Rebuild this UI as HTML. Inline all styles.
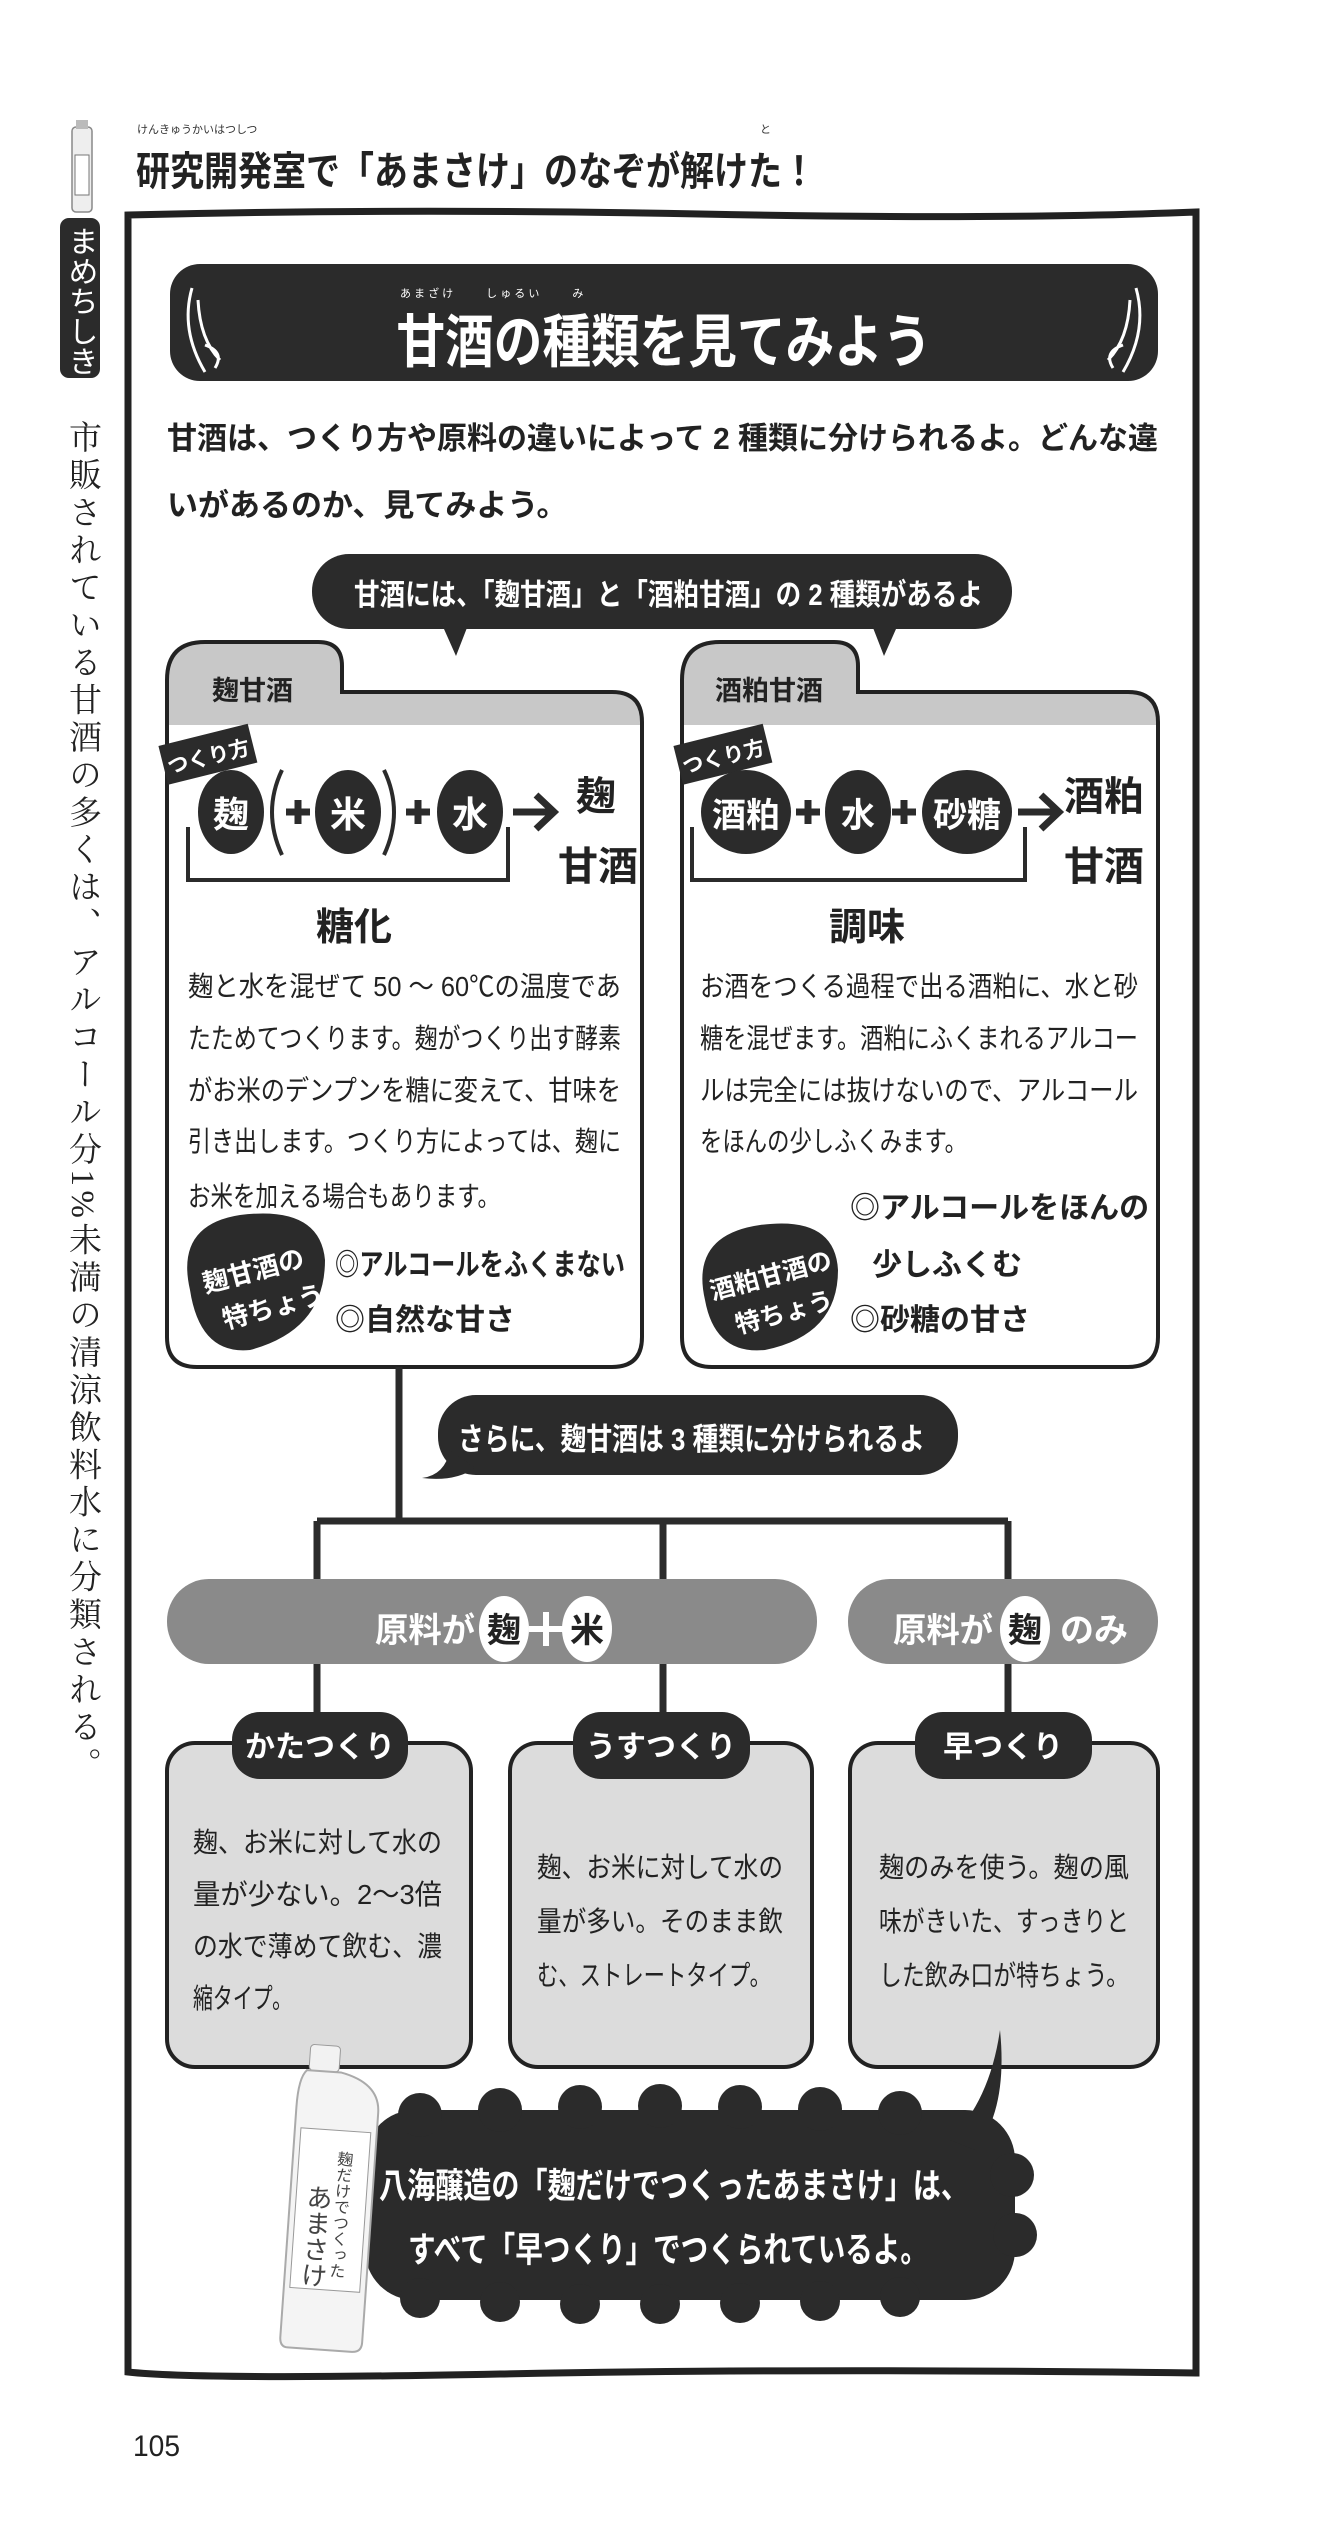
<!DOCTYPE html>
<html><head><meta charset="utf-8"><style>
html,body{margin:0;padding:0;background:#fff}
svg{display:block}
text{font-family:"Liberation Sans","Noto Sans CJK JP",sans-serif}
.b{font-weight:bold}
.w{fill:#fff}
.r{font-size:11px;fill:#333}
.rw{font-size:11px;fill:#fff}
.bd{font-size:28px;fill:#222}
.bx{font-size:28px;fill:#222}
</style></head><body>
<svg width="1335" height="2530" viewBox="0 0 1335 2530" xmlns="http://www.w3.org/2000/svg">
<defs>
<clipPath id="cL"><path d="M167,680 Q167,642 205,642 L318,642 Q342,642 342,666 L342,692 L612,692 Q642,692 642,722 L642,1337 Q642,1367 612,1367 L197,1367 Q167,1367 167,1337 Z"/></clipPath>
<clipPath id="cR"><path d="M682,680 Q682,642 720,642 L834,642 Q858,642 858,666 L858,692 L1128,692 Q1158,692 1158,722 L1158,1337 Q1158,1367 1128,1367 L712,1367 Q682,1367 682,1337 Z"/></clipPath>
</defs>

<!-- left sidebar -->
<rect x="72" y="127" width="20" height="85" rx="4" fill="#eee" stroke="#888" stroke-width="1.5"/>
<rect x="76" y="120" width="12" height="9" fill="#bbb"/>
<rect x="75" y="155" width="14" height="40" fill="#fff" stroke="#777"/>
<rect x="60" y="218" width="40" height="160" rx="9" fill="#2b2b2b"/>
<text x="80" y="226" class="w" font-size="30" style="writing-mode:vertical-rl" text-anchor="start">まめちしき</text>
<text x="82" y="420" font-size="33" fill="#222" style="writing-mode:vertical-rl;font-family:'Liberation Serif','Noto Serif CJK SC',serif" textLength="1360" lengthAdjust="spacing">市販されている甘酒の多くは、アルコール分1%未満の清涼飲料水に分類される。</text>

<!-- title -->
<text x="137" y="133" class="r" font-size="13">けんきゅうかいはつしつ</text>
<text x="760" y="133" class="r" font-size="13">と</text>
<text x="136" y="185" font-size="40" class="b" fill="#222" textLength="680" lengthAdjust="spacingAndGlyphs">研究開発室で「あまさけ」のなぞが解けた！</text>

<!-- frame -->
<path d="M128,215 Q400,208 700,214 T1196,212 L1196,2373 Q800,2368 500,2374 T128,2372 Z" fill="none" stroke="#222" stroke-width="7"/>

<!-- banner -->
<rect x="170" y="264" width="988" height="117" rx="30" fill="#2b2b2b"/>
<path d="M192,288 Q180,330 205,372 M198,300 Q200,340 220,360 M205,345 Q225,352 215,368" stroke="#fff" stroke-width="3" fill="none"/>
<path d="M1136,288 Q1148,330 1123,372 M1130,300 Q1128,340 1108,360 M1123,345 Q1103,352 1113,368" stroke="#fff" stroke-width="3" fill="none"/>
<text x="400" y="297" class="rw" font-size="14">あ ま ざ け　　　し ゅ る い　　　み</text>
<text x="664" y="362" class="w b" font-size="58" text-anchor="middle" textLength="535" lengthAdjust="spacingAndGlyphs">甘酒の種類を見てみよう</text>

<!-- intro -->
<text x="167" y="449" font-size="31" fill="#222" class="b" textLength="991" lengthAdjust="spacingAndGlyphs">甘酒は、つくり方や原料の違いによって 2 種類に分けられるよ。どんな違</text>
<text x="167" y="516" font-size="31" fill="#222" class="b">いがあるのか、見てみよう。</text>

<!-- bubble 1 -->
<rect x="312" y="554" width="700" height="75" rx="37" fill="#2b2b2b"/>
<path d="M440,620 L456,656 L470,620 Z M870,620 L884,656 L900,620 Z" fill="#2b2b2b"/>
<text x="354" y="605" class="w b" font-size="30" textLength="629" lengthAdjust="spacingAndGlyphs">甘酒には、「麹甘酒」と「酒粕甘酒」の 2 種類があるよ</text>

<!-- left card -->
<g clip-path="url(#cL)"><rect x="160" y="630" width="500" height="750" fill="#fff"/><rect x="160" y="630" width="500" height="95" fill="#c8c8c8"/></g>
<path d="M167,680 Q167,642 205,642 L318,642 Q342,642 342,666 L342,692 L612,692 Q642,692 642,722 L642,1337 Q642,1367 612,1367 L197,1367 Q167,1367 167,1337 Z" fill="none" stroke="#222" stroke-width="4"/>
<text x="212" y="700" class="b" font-size="27" fill="#222">麹甘酒</text>
<g transform="rotate(-14 205 755)"><rect x="162" y="735" width="92" height="40" fill="#2b2b2b"/><text x="166" y="765" class="w b" font-size="21">つくり方</text></g>
<ellipse cx="231" cy="812" rx="33" ry="42" fill="#2b2b2b"/>
<ellipse cx="348" cy="812" rx="33" ry="42" fill="#2b2b2b"/>
<ellipse cx="470" cy="812" rx="33" ry="42" fill="#2b2b2b"/>
<text x="231" y="827" class="w b" font-size="36" text-anchor="middle">麹</text>
<text x="348" y="827" class="w b" font-size="36" text-anchor="middle">米</text>
<text x="470" y="827" class="w b" font-size="36" text-anchor="middle">水</text>
<path d="M282,770 Q262,812 282,855 M384,770 Q404,812 384,855" stroke="#2b2b2b" stroke-width="4" fill="none"/>
<path d="M298,800 V824 M286,812 H310 M418,800 V824 M406,812 H430" stroke="#2b2b2b" stroke-width="7"/>
<path d="M513,812 H550 M536,795 L554,812 L536,829" stroke="#2b2b2b" stroke-width="7" fill="none"/>
<text x="596" y="810" class="b" font-size="40" fill="#222" text-anchor="middle">麹</text>
<text x="598" y="880" class="b" font-size="40" fill="#222" text-anchor="middle">甘酒</text>
<path d="M188,827 V880 H508 V827" stroke="#2b2b2b" stroke-width="4" fill="none"/>
<text x="354" y="940" class="b" font-size="38" fill="#222" text-anchor="middle">糖化</text>
<text x="188" y="996" class="bd" textLength="433" lengthAdjust="spacingAndGlyphs">麹と水を混ぜて 50 ～ 60℃の温度であ</text>
<text x="188" y="1048" class="bd" textLength="433" lengthAdjust="spacingAndGlyphs">たためてつくります。麹がつくり出す酵素</text>
<text x="188" y="1100" class="bd" textLength="433" lengthAdjust="spacingAndGlyphs">がお米のデンプンを糖に変えて、甘味を</text>
<text x="188" y="1151" class="bd" textLength="433" lengthAdjust="spacingAndGlyphs">引き出します。つくり方によっては、麹に</text>
<text x="188" y="1206" class="bd" textLength="312" lengthAdjust="spacingAndGlyphs">お米を加える場合もあります。</text>
<path d="M190,1290 Q175,1225 240,1215 Q320,1205 325,1260 Q325,1330 250,1350 Q200,1355 190,1290 Z" fill="#2b2b2b"/>
<g transform="rotate(-15 255 1285)"><text x="205" y="1280" class="w b" font-size="26">麹甘酒の</text><text x="215" y="1320" class="w b" font-size="26">特ちょう</text></g>
<text x="335" y="1275" class="b" font-size="30" fill="#222" textLength="290" lengthAdjust="spacingAndGlyphs">◎アルコールをふくまない</text>
<text x="335" y="1330" class="b" font-size="30" fill="#222">◎自然な甘さ</text>

<!-- right card -->
<g clip-path="url(#cR)"><rect x="675" y="630" width="500" height="750" fill="#fff"/><rect x="675" y="630" width="500" height="95" fill="#c8c8c8"/></g>
<path d="M682,680 Q682,642 720,642 L834,642 Q858,642 858,666 L858,692 L1128,692 Q1158,692 1158,722 L1158,1337 Q1158,1367 1128,1367 L712,1367 Q682,1367 682,1337 Z" fill="none" stroke="#222" stroke-width="4"/>
<text x="715" y="700" class="b" font-size="27" fill="#222">酒粕甘酒</text>
<g transform="rotate(-14 720 755)"><rect x="677" y="735" width="92" height="40" fill="#2b2b2b"/><text x="681" y="765" class="w b" font-size="21">つくり方</text></g>
<ellipse cx="746" cy="812" rx="45" ry="42" fill="#2b2b2b"/>
<ellipse cx="858" cy="812" rx="33" ry="42" fill="#2b2b2b"/>
<ellipse cx="967" cy="812" rx="45" ry="42" fill="#2b2b2b"/>
<text x="746" y="827" class="w b" font-size="34" text-anchor="middle">酒粕</text>
<text x="858" y="827" class="w b" font-size="34" text-anchor="middle">水</text>
<text x="967" y="827" class="w b" font-size="34" text-anchor="middle">砂糖</text>
<path d="M808,800 V824 M796,812 H820 M904,800 V824 M892,812 H916" stroke="#2b2b2b" stroke-width="7"/>
<path d="M1018,812 H1055 M1041,795 L1059,812 L1041,829" stroke="#2b2b2b" stroke-width="7" fill="none"/>
<text x="1104" y="810" class="b" font-size="40" fill="#222" text-anchor="middle">酒粕</text>
<text x="1104" y="880" class="b" font-size="40" fill="#222" text-anchor="middle">甘酒</text>
<path d="M692,827 V880 H1025 V827" stroke="#2b2b2b" stroke-width="4" fill="none"/>
<text x="867" y="940" class="b" font-size="38" fill="#222" text-anchor="middle">調味</text>
<text x="700" y="996" class="bd" textLength="438" lengthAdjust="spacingAndGlyphs">お酒をつくる過程で出る酒粕に、水と砂</text>
<text x="700" y="1048" class="bd" textLength="438" lengthAdjust="spacingAndGlyphs">糖を混ぜます。酒粕にふくまれるアルコー</text>
<text x="700" y="1100" class="bd" textLength="438" lengthAdjust="spacingAndGlyphs">ルは完全には抜けないので、アルコール</text>
<text x="700" y="1151" class="bd" textLength="267" lengthAdjust="spacingAndGlyphs">をほんの少しふくみます。</text>
<path d="M705,1300 Q690,1235 760,1225 Q835,1215 838,1270 Q838,1335 765,1350 Q715,1355 705,1300 Z" fill="#2b2b2b"/>
<g transform="rotate(-15 770 1290)"><text x="712" y="1285" class="w b" font-size="25">酒粕甘酒の</text><text x="728" y="1324" class="w b" font-size="25">特ちょう</text></g>
<text x="850" y="1218" class="b" font-size="30" fill="#222">◎アルコールをほんの</text>
<text x="872" y="1275" class="b" font-size="30" fill="#222">少しふくむ</text>
<text x="850" y="1330" class="b" font-size="30" fill="#222">◎砂糖の甘さ</text>

<!-- tree connectors -->
<path d="M399,1367 V1521 M317,1521 H1008 M317,1521 V1712 M663,1521 V1712 M1008,1521 V1712" stroke="#2b2b2b" stroke-width="7" fill="none"/>

<!-- bubble 2 -->
<rect x="438" y="1395" width="520" height="80" rx="38" fill="#2b2b2b"/>
<path d="M450,1450 Q445,1475 422,1478 Q455,1482 475,1468 Z" fill="#2b2b2b"/>
<text x="458" y="1450" class="w b" font-size="31" textLength="467" lengthAdjust="spacingAndGlyphs">さらに、麹甘酒は 3 種類に分けられるよ</text>

<!-- pills -->
<rect x="167" y="1579" width="650" height="85" rx="42" fill="#8a8a8a"/>
<rect x="848" y="1579" width="310" height="85" rx="42" fill="#8a8a8a"/>
<text x="375" y="1642" class="w b" font-size="34" textLength="100" lengthAdjust="spacingAndGlyphs">原料が</text>
<ellipse cx="504" cy="1629" rx="25" ry="33" fill="#fff"/>
<text x="504" y="1642" class="b" font-size="34" fill="#222" text-anchor="middle">麹</text>
<path d="M546,1612 V1646 M529,1629 H563" stroke="#fff" stroke-width="6"/>
<ellipse cx="587" cy="1629" rx="25" ry="33" fill="#fff"/>
<text x="587" y="1642" class="b" font-size="34" fill="#222" text-anchor="middle">米</text>
<text x="893" y="1642" class="w b" font-size="34" textLength="100" lengthAdjust="spacingAndGlyphs">原料が</text>
<ellipse cx="1025" cy="1629" rx="25" ry="33" fill="#fff"/>
<text x="1025" y="1642" class="b" font-size="34" fill="#222" text-anchor="middle">麹</text>
<text x="1060" y="1642" class="w b" font-size="34">のみ</text>

<!-- boxes -->
<rect x="167" y="1743" width="304" height="324" rx="28" fill="#dcdcdc" stroke="#222" stroke-width="4"/>
<rect x="510" y="1743" width="302" height="324" rx="28" fill="#dcdcdc" stroke="#222" stroke-width="4"/>
<rect x="850" y="1743" width="308" height="324" rx="28" fill="#dcdcdc" stroke="#222" stroke-width="4"/>
<rect x="232" y="1712" width="176" height="67" rx="28" fill="#2b2b2b"/>
<rect x="573" y="1712" width="177" height="67" rx="28" fill="#2b2b2b"/>
<rect x="915" y="1712" width="177" height="67" rx="28" fill="#2b2b2b"/>
<text x="320" y="1757" class="w b" font-size="30" text-anchor="middle">かたつくり</text>
<text x="661" y="1757" class="w b" font-size="30" text-anchor="middle">うすつくり</text>
<text x="1003" y="1757" class="w b" font-size="30" text-anchor="middle">早つくり</text>
<text x="193" y="1852" class="bx" textLength="249" lengthAdjust="spacingAndGlyphs">麹、お米に対して水の</text>
<text x="193" y="1904" class="bx" textLength="249" lengthAdjust="spacingAndGlyphs">量が少ない。2～3倍</text>
<text x="193" y="1956" class="bx" textLength="249" lengthAdjust="spacingAndGlyphs">の水で薄めて飲む、濃</text>
<text x="193" y="2008" class="bx" textLength="99" lengthAdjust="spacingAndGlyphs">縮タイプ。</text>
<text x="537" y="1877" class="bx" textLength="246" lengthAdjust="spacingAndGlyphs">麹、お米に対して水の</text>
<text x="537" y="1931" class="bx" textLength="246" lengthAdjust="spacingAndGlyphs">量が多い。そのまま飲</text>
<text x="537" y="1985" class="bx" textLength="234" lengthAdjust="spacingAndGlyphs">む、ストレートタイプ。</text>
<text x="879" y="1877" class="bx" textLength="250" lengthAdjust="spacingAndGlyphs">麹のみを使う。麹の風</text>
<text x="879" y="1931" class="bx" textLength="250" lengthAdjust="spacingAndGlyphs">味がきいた、すっきりと</text>
<text x="879" y="1985" class="bx" textLength="250" lengthAdjust="spacingAndGlyphs">した飲み口が特ちょう。</text>

<!-- bottom cloud bubble -->
<g fill="#2b2b2b">
<rect x="365" y="2110" width="650" height="190" rx="50"/>
<circle cx="420" cy="2115" r="22"/><circle cx="500" cy="2110" r="22"/><circle cx="580" cy="2107" r="22"/><circle cx="660" cy="2106" r="22"/><circle cx="740" cy="2107" r="22"/><circle cx="820" cy="2109" r="22"/><circle cx="900" cy="2113" r="22"/>
<circle cx="1012" cy="2175" r="22"/><circle cx="1015" cy="2235" r="22"/>
<circle cx="420" cy="2298" r="20"/><circle cx="500" cy="2302" r="20"/><circle cx="580" cy="2304" r="20"/><circle cx="660" cy="2304" r="20"/><circle cx="740" cy="2303" r="20"/><circle cx="820" cy="2301" r="20"/><circle cx="900" cy="2297" r="20"/>
<path d="M1000,2030 Q1008,2110 975,2150 L950,2140 Q990,2100 1000,2030 Z"/>
</g>
<text x="379" y="2198" class="w b" font-size="35" textLength="590" lengthAdjust="spacingAndGlyphs">八海醸造の「麹だけでつくったあまさけ」は、</text>
<text x="408" y="2262" class="w b" font-size="35" textLength="520" lengthAdjust="spacingAndGlyphs">すべて「早つくり」でつくられているよ。</text>

<!-- bottle -->
<g transform="rotate(4 330 2200)">
<rect x="300" y="2046" width="30" height="26" rx="4" fill="#f2f2f2" stroke="#999"/>
<path d="M298,2072 L332,2072 Q372,2080 372,2110 L372,2340 Q372,2350 362,2350 L298,2350 Q290,2350 290,2340 L290,2110 Q290,2080 298,2072 Z" fill="#f4f4f4" stroke="#aaa" stroke-width="2"/>
<rect x="296" y="2130" width="70" height="160" fill="#fff" stroke="#999"/>
<text x="340" y="2150" font-size="16" fill="#444" style="writing-mode:vertical-rl">麹だけでつくった</text>
<text x="318" y="2185" font-size="26" fill="#444" style="writing-mode:vertical-rl">あまさけ</text>
</g>

<text x="133" y="2456" font-size="30" fill="#222" textLength="47" lengthAdjust="spacingAndGlyphs">105</text>
</svg>
</body></html>
